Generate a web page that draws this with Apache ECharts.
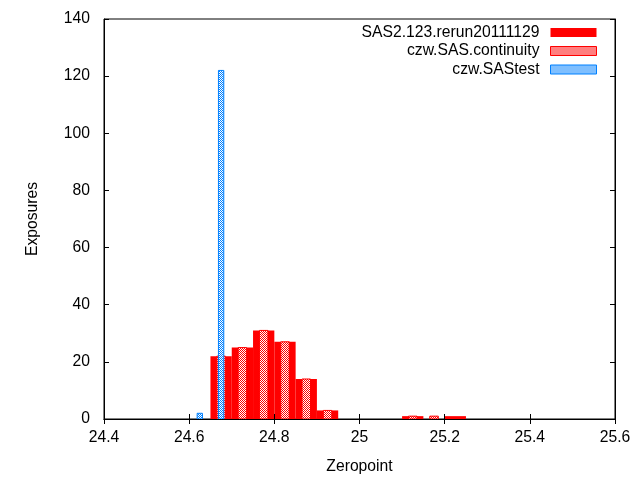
<!DOCTYPE html>
<html>
<head>
<meta charset="utf-8">
<script src="https://cdn.jsdelivr.net/npm/echarts@6/dist/echarts.min.js"></script>
<style>html,body{margin:0;padding:0;background:#fff;}#c{width:640px;height:480px;}</style>
</head>
<body>
<div id="c"></div>
<script>
const seriesNames = ['SAS2.123.rerun20111129', 'czw.SAS.continuity', 'czw.SAStest'];
const rerunX = [24.675, 24.725, 24.775, 24.825, 24.875, 24.925, 25.125, 25.225];
const rerunY = [22, 25, 31, 27, 14, 3, 1, 1];
const contX = [24.675, 24.725, 24.775, 24.825, 24.875, 24.925, 25.125, 25.175];
const contY = [22, 25, 31, 27, 14, 3, 1, 1];
const testX = [24.625, 24.675];
const testY = [2, 122];
const xTicks = [24.4, 24.6, 24.8, 25, 25.2, 25.4, 25.6];
const yTicks = [0, 20, 40, 60, 80, 100, 120, 140];

const FONT = '"Liberation Sans", Arial, sans-serif';
const FS = 15.7;

function makePattern(color) {
  const c = document.createElement('canvas');
  c.width = 4; c.height = 4;
  const g = c.getContext('2d');
  g.fillStyle = '#ffffff';
  g.fillRect(0, 0, 4, 4);
  g.fillStyle = color;
  for (let y = 0; y < 4; y++) {
    for (let x = 0; x < 4; x++) {
      if ((x + y) % 2 === 0) g.fillRect(x, y, 1, 1);
    }
  }
  return { image: c, repeat: 'repeat' };
}
const RED = '#ff0000';
const BLUE = '#0080ff';
const redPat = makePattern(RED);
const bluePat = makePattern(BLUE);

function pairs(xs, ys) { return xs.map((x, i) => [x, ys[i]]); }

function barRender(w, fill, stroke) {
  return function (params, api) {
    const x = api.value(0), y = api.value(1);
    const p0 = api.coord([x - w / 2, y]);
    const p1 = api.coord([x + w / 2, 0]);
    return {
      type: 'rect',
      shape: { x: p0[0], y: p0[1], width: p1[0] - p0[0], height: p1[1] - p0[1] },
      style: { fill: fill, stroke: stroke, lineWidth: stroke ? 1 : 0 }
    };
  };
}

const chart = echarts.init(document.getElementById('c'), null, { renderer: 'canvas' });
const baseAxisLine = { show: true, lineStyle: { color: '#000', width: 1 } };
chart.setOption({
  animation: false,
  backgroundColor: '#fff',
  textStyle: { fontFamily: FONT },
  grid: { left: 104, right: 25, top: 19, bottom: 61, show: true, borderColor: '#000', borderWidth: 1, backgroundColor: 'transparent' },
  legend: {
    orient: 'vertical',
    right: 38,
    top: 18.5,
    align: 'right',
    itemWidth: 46,
    itemHeight: 9,
    itemGap: 0.5,
    selectedMode: false,
    textStyle: { fontFamily: FONT, fontSize: FS, color: '#000', lineHeight: 18, padding: [0, 6, 0, 0] },
    data: [
      { name: seriesNames[0], icon: 'rect', itemStyle: { color: RED, borderColor: RED, borderWidth: 0 } },
      { name: seriesNames[1], icon: 'rect', itemStyle: { color: redPat, borderColor: RED, borderWidth: 1 } },
      { name: seriesNames[2], icon: 'rect', itemStyle: { color: bluePat, borderColor: BLUE, borderWidth: 1 } }
    ]
  },
  xAxis: [
    {
      type: 'value', min: 24.4, max: 25.6, interval: 0.2, position: 'bottom', z: 5,
      name: 'Zeropoint', nameLocation: 'middle', nameGap: 40,
      nameTextStyle: { fontFamily: FONT, fontSize: FS, color: '#000' },
      axisLine: baseAxisLine,
      axisTick: { show: true, inside: true, length: 5, lineStyle: { color: '#000' } },
      axisLabel: { show: true, margin: 11, fontFamily: FONT, fontSize: FS, color: '#000' },
      splitLine: { show: false }
    },
    {
      type: 'value', min: 24.4, max: 25.6, interval: 0.2, position: 'top', z: 5,
      axisLine: baseAxisLine,
      axisTick: { show: true, inside: true, length: 5, lineStyle: { color: '#000' } },
      axisLabel: { show: false },
      splitLine: { show: false }
    }
  ],
  yAxis: [
    {
      type: 'value', min: 0, max: 140, interval: 20, position: 'left', z: 5,
      name: 'Exposures', nameLocation: 'middle', nameGap: 63, nameRotate: 90,
      nameTextStyle: { fontFamily: FONT, fontSize: FS, color: '#000' },
      axisLine: baseAxisLine,
      axisTick: { show: true, inside: true, length: 5, lineStyle: { color: '#000' } },
      axisLabel: { show: true, margin: 14, fontFamily: FONT, fontSize: FS, color: '#000' },
      splitLine: { show: false }
    },
    {
      type: 'value', min: 0, max: 140, interval: 20, position: 'right', z: 5,
      axisLine: baseAxisLine,
      axisTick: { show: true, inside: true, length: 5, lineStyle: { color: '#000' } },
      axisLabel: { show: false },
      splitLine: { show: false }
    }
  ],
  series: [
    {
      name: seriesNames[0], type: 'custom', xAxisIndex: 0, yAxisIndex: 0, z: 2,
      itemStyle: { color: RED },
      data: pairs(rerunX, rerunY), encode: { x: 0, y: 1 },
      renderItem: barRender(0.05, RED, null)
    },
    {
      name: seriesNames[1], type: 'custom', xAxisIndex: 0, yAxisIndex: 0, z: 3,
      itemStyle: { color: RED },
      data: pairs(contX, contY), encode: { x: 0, y: 1 },
      renderItem: barRender(0.02, redPat, RED)
    },
    {
      name: seriesNames[2], type: 'custom', xAxisIndex: 0, yAxisIndex: 0, z: 4,
      itemStyle: { color: BLUE },
      data: pairs(testX, testY), encode: { x: 0, y: 1 },
      renderItem: barRender(0.0125, bluePat, BLUE)
    }
  ]
});
</script>
</body>
</html>
